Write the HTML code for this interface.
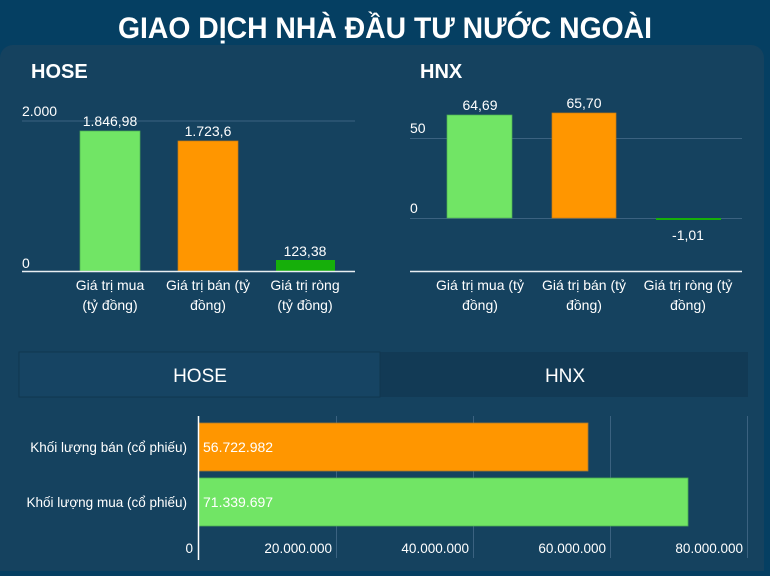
<!DOCTYPE html>
<html><head><meta charset="utf-8"><style>
body{margin:0;width:770px;height:571px;background:#053f62;overflow:hidden;font-family:"Liberation Sans",sans-serif;}
</style></head><body>
<svg width="770" height="571" xmlns="http://www.w3.org/2000/svg" font-family="Liberation Sans, sans-serif">
<rect x="0" y="0" width="770" height="571" fill="#053f62"/>
<rect x="0" y="45" width="764" height="540" rx="13" fill="#15425f"/>
<text x="118" y="38" font-size="30" font-weight="bold" fill="#fff" textLength="534" lengthAdjust="spacingAndGlyphs">GIAO DỊCH NHÀ ĐẦU TƯ NƯỚC NGOÀI</text>
<!-- HOSE -->
<text x="31" y="78" font-size="20" font-weight="bold" fill="#fff">HOSE</text>
<line x1="22" y1="121" x2="355" y2="121" stroke="#3b6280" stroke-width="1"/>
<text x="22" y="116" font-size="14" fill="#fff">2.000</text>
<text x="22" y="268" font-size="14" fill="#fff">0</text>
<rect x="80" y="131" width="60" height="140" fill="#71e565" stroke="#4cae52" stroke-width="0.7"/>
<rect x="178" y="141" width="60" height="130" fill="#ff9600" stroke="#c87a10" stroke-width="0.7"/>
<rect x="276" y="260" width="59" height="11" fill="#16af0a"/>
<line x1="22" y1="271.5" x2="355" y2="271.5" stroke="#e8eef2" stroke-width="1.5"/>
<g font-size="14" fill="#fff" text-anchor="middle">
<text x="110" y="126">1.846,98</text><text x="208" y="136">1.723,6</text><text x="305" y="256">123,38</text>
<text x="110" y="290">Giá trị mua</text><text x="110" y="310">(tỷ đồng)</text>
<text x="208" y="290">Giá trị bán (tỷ</text><text x="208" y="310">đồng)</text>
<text x="305" y="290">Giá trị ròng</text><text x="305" y="310">(tỷ đồng)</text>
</g>
<!-- HNX -->
<text x="420" y="78" font-size="20" font-weight="bold" fill="#fff">HNX</text>
<line x1="410" y1="138.5" x2="742" y2="138.5" stroke="#3b6280" stroke-width="1"/>
<line x1="410" y1="218.5" x2="742" y2="218.5" stroke="#3b6280" stroke-width="1"/>
<text x="410" y="133" font-size="14" fill="#fff">50</text>
<text x="410" y="213" font-size="14" fill="#fff">0</text>
<rect x="447" y="115" width="65" height="103" fill="#71e565" stroke="#4cae52" stroke-width="0.7"/>
<rect x="552" y="113" width="64" height="105" fill="#ff9600" stroke="#c87a10" stroke-width="0.7"/>
<rect x="656" y="218" width="65" height="2" fill="#16af0a"/>
<line x1="410" y1="271.5" x2="742" y2="271.5" stroke="#e8eef2" stroke-width="1.5"/>
<g font-size="14" fill="#fff" text-anchor="middle">
<text x="480" y="110">64,69</text><text x="584" y="108">65,70</text><text x="688" y="240">-1,01</text>
<text x="480" y="290">Giá trị mua (tỷ</text><text x="480" y="310">đồng)</text>
<text x="584" y="290">Giá trị bán (tỷ</text><text x="584" y="310">đồng)</text>
<text x="688" y="290">Giá trị ròng (tỷ</text><text x="688" y="310">đồng)</text>
</g>
<!-- tabs -->
<rect x="19" y="352" width="729" height="45" fill="#123a55"/>
<rect x="19" y="352" width="361" height="45" fill="#164463" stroke="#10374f" stroke-width="1"/>
<text x="200" y="382" text-anchor="middle" font-size="19" fill="#fff">HOSE</text>
<text x="565" y="382" text-anchor="middle" font-size="19" fill="#fff">HNX</text>
<!-- bottom chart -->
<g stroke="#3b6280" stroke-width="1">
<line x1="336.5" y1="416" x2="336.5" y2="558"/><line x1="473.5" y1="416" x2="473.5" y2="558"/>
<line x1="610.5" y1="416" x2="610.5" y2="558"/><line x1="747.5" y1="416" x2="747.5" y2="558"/>
</g>
<rect x="199" y="423" width="389" height="48" fill="#ff9600" stroke="#a87a30" stroke-width="0.8"/>
<rect x="199" y="478" width="489" height="48" fill="#71e565" stroke="#4cae52" stroke-width="0.8"/>
<line x1="198.5" y1="416" x2="198.5" y2="560" stroke="#fff" stroke-width="1.5"/>
<g font-size="14" fill="#fff">
<text x="203" y="452">56.722.982</text><text x="203" y="507">71.339.697</text>
</g>
<g font-size="13.5" fill="#fff" text-anchor="end">
<text x="187" y="452">Khối lượng bán (cổ phiếu)</text>
<text x="187" y="507">Khối lượng mua (cổ phiếu)</text>
<text x="193" y="553">0</text>
<text x="332" y="553">20.000.000</text><text x="469" y="553">40.000.000</text>
<text x="606" y="553">60.000.000</text><text x="743" y="553">80.000.000</text>
</g>
</svg>
</body></html>
